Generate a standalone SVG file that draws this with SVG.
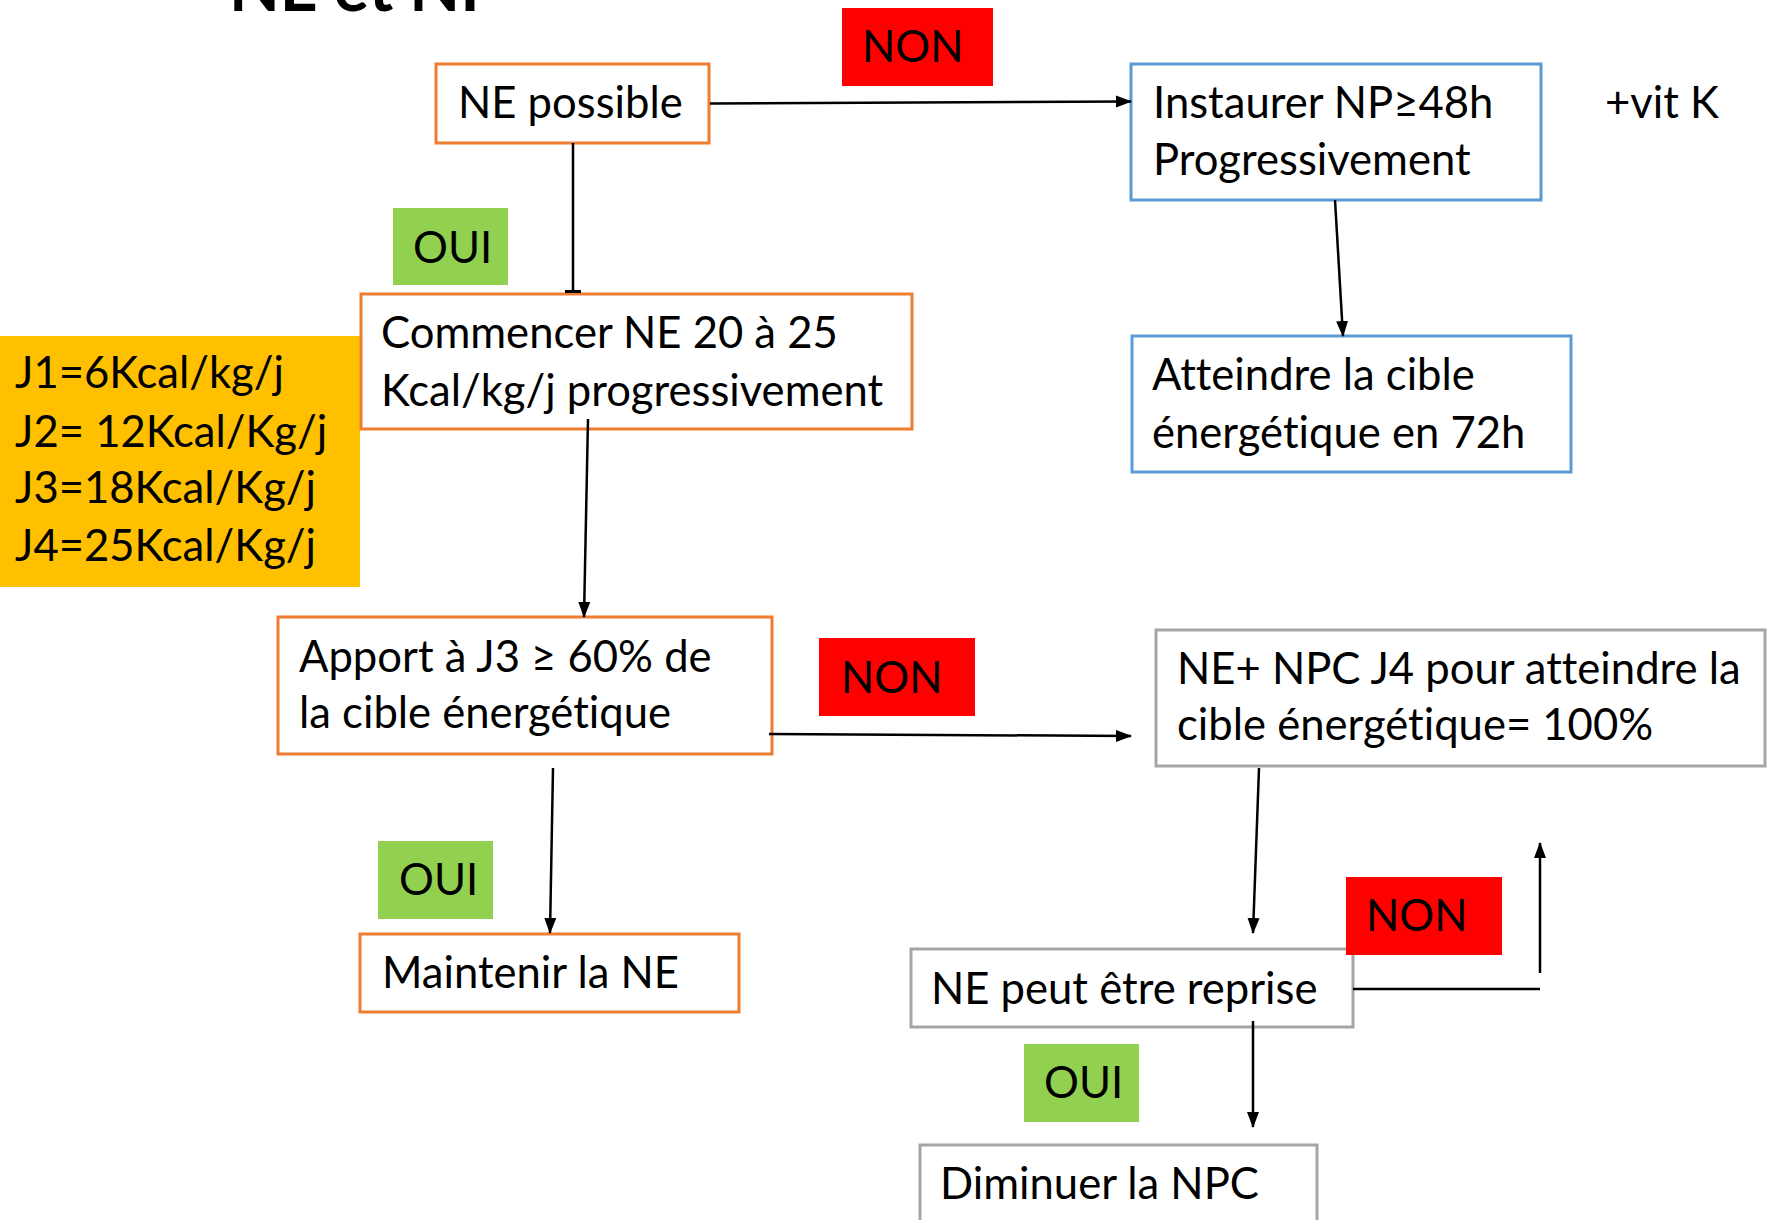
<svg xmlns="http://www.w3.org/2000/svg" width="1767" height="1220" viewBox="0 0 1767 1220">
<style>
.t{font-family:Lato,"Open Sans","Liberation Sans",sans-serif;font-size:43.6px;fill:#000;font-variant-ligatures:none}
.title{font-family:Lato,"Liberation Sans",sans-serif;font-size:66px;font-weight:bold;fill:#000}
.bo{fill:#fff;stroke:#ED7D31;stroke-width:3}
.bb{fill:#fff;stroke:#5B9BD5;stroke-width:3}
.bg{fill:#fff;stroke:#A5A5A5;stroke-width:3}
.red{fill:#FF0000}
.green{fill:#92D050}
.yellow{fill:#FFC000}
.c{fill:none;stroke:#000;stroke-width:2.5}
</style>
<defs>
<marker id="ah" markerUnits="userSpaceOnUse" markerWidth="16" markerHeight="16" viewBox="0 0 16 16" refX="15" refY="8" orient="auto">
<path d="M0,2 L16,8 L0,14 Z" fill="#000"/>
</marker>
<marker id="tee" markerUnits="userSpaceOnUse" markerWidth="4" markerHeight="18" viewBox="0 0 4 18" refX="2" refY="9" orient="auto">
<rect x="0" y="1" width="3" height="16" fill="#000"/>
</marker>
</defs>

<text class="title" x="229" y="11">NE et NP</text>

<g id="node-ne-possible">
<rect class="bo" x="436" y="64" width="273" height="79"/>
<text class="t" x="458" y="118">NE possible</text>
</g>
<g id="label-non-1">
<rect class="red" x="842" y="8" width="151" height="78"/>
<text class="t" x="862" y="62">NON</text>
</g>
<g id="node-instaurer">
<rect class="bb" x="1131" y="64" width="410" height="136"/>
<text class="t" x="1153" y="118">Instaurer NP≥48h</text>
<text class="t" x="1153" y="175">Progressivement</text>
</g>
<g id="label-vitk">
<text class="t" x="1605" y="118">+vit K</text>
</g>
<g id="node-atteindre">
<rect class="bb" x="1132" y="336" width="439" height="136"/>
<text class="t" x="1152" y="390">Atteindre la cible</text>
<text class="t" x="1152" y="448">énergétique en 72h</text>
</g>
<g id="label-oui-1">
<rect class="green" x="393" y="208" width="115" height="77"/>
<text class="t" x="413" y="263">OUI</text>
</g>
<g id="node-jours">
<rect class="yellow" x="0" y="336" width="360" height="251"/>
<text class="t" x="15" y="388">J1=6Kcal/kg/j</text>
<text class="t" x="15" y="447">J2= 12Kcal/Kg/j</text>
<text class="t" x="15" y="503">J3=18Kcal/Kg/j</text>
<text class="t" x="15" y="561">J4=25Kcal/Kg/j</text>
</g>
<g id="node-commencer">
<rect class="bo" x="361" y="294" width="551" height="135"/>
<text class="t" x="381" y="348">Commencer NE 20 à 25</text>
<text class="t" x="381" y="406">Kcal/kg/j progressivement</text>
</g>
<g id="node-apport">
<rect class="bo" x="278" y="617" width="494" height="137"/>
<text class="t" x="299" y="672">Apport à J3 ≥ 60% de</text>
<text class="t" x="299" y="728">la cible énergétique</text>
</g>
<g id="label-non-2">
<rect class="red" x="819" y="638" width="156" height="78"/>
<text class="t" x="841" y="693">NON</text>
</g>
<g id="node-ne-npc">
<rect class="bg" x="1156" y="630" width="609" height="136"/>
<text class="t" x="1177" y="684">NE+ NPC J4 pour atteindre la</text>
<text class="t" x="1177" y="740">cible énergétique= 100%</text>
</g>
<g id="label-oui-2">
<rect class="green" x="378" y="841" width="115" height="78"/>
<text class="t" x="399" y="895">OUI</text>
</g>
<g id="node-maintenir">
<rect class="bo" x="360" y="934" width="379" height="78"/>
<text class="t" x="382" y="988">Maintenir la NE</text>
</g>
<g id="node-ne-reprise">
<rect class="bg" x="911" y="949" width="442" height="78"/>
<text class="t" x="931" y="1004">NE peut être reprise</text>
</g>
<g id="label-non-3">
<rect class="red" x="1346" y="877" width="156" height="78"/>
<text class="t" x="1366" y="931">NON</text>
</g>
<g id="label-oui-3">
<rect class="green" x="1024" y="1044" width="115" height="78"/>
<text class="t" x="1044" y="1098">OUI</text>
</g>
<g id="node-diminuer">
<rect class="bg" x="920" y="1145" width="397" height="100"/>
<text class="t" x="940" y="1199">Diminuer la NPC</text>
</g>

<g id="connectors">
<line class="c" x1="710" y1="103.5" x2="1131" y2="101.5" marker-end="url(#ah)"/>
<line class="c" x1="573" y1="143" x2="573" y2="292" marker-end="url(#tee)"/>
<line class="c" x1="1335" y1="200" x2="1343" y2="336" marker-end="url(#ah)"/>
<line class="c" x1="588" y1="419" x2="584" y2="617" marker-end="url(#ah)"/>
<line class="c" x1="769" y1="734" x2="1131" y2="736" marker-end="url(#ah)"/>
<line class="c" x1="553" y1="768" x2="550" y2="933" marker-end="url(#ah)"/>
<line class="c" x1="1259" y1="768" x2="1253" y2="933" marker-end="url(#ah)"/>
<line class="c" x1="1353" y1="989" x2="1540" y2="989"/>
<line class="c" x1="1540" y1="973" x2="1540" y2="843" marker-end="url(#ah)"/>
<line class="c" x1="1253" y1="1021" x2="1253" y2="1127" marker-end="url(#ah)"/>
</g>
</svg>
